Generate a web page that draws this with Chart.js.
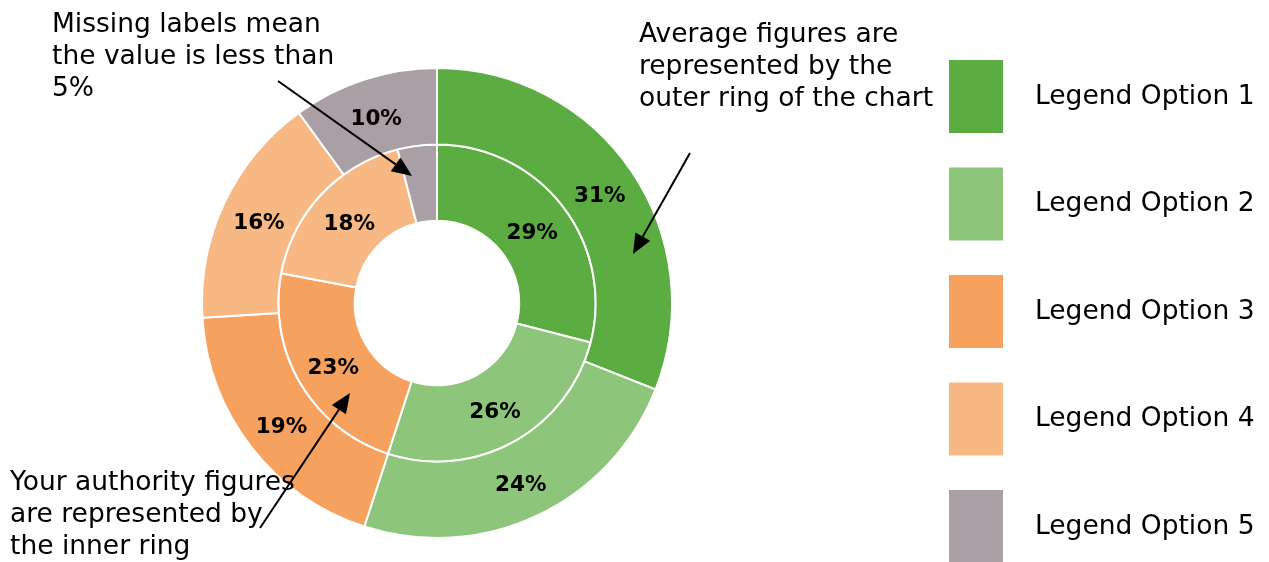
<!DOCTYPE html>
<html>
<head>
<meta charset="utf-8">
<script src="https://cdn.jsdelivr.net/npm/chart.js@4"></script>
<style>
  html, body { margin: 0; padding: 0; background: #fff; }
  #wrap { width: 1269px; height: 562px; }
</style>
</head>
<body>
<div id="wrap"><canvas id="chart" width="1269" height="562"></canvas></div>
<script>
// chart data
var categories = ["Legend Option 1", "Legend Option 2", "Legend Option 3", "Legend Option 4", "Legend Option 5"];
var averageValues = [31, 24, 19, 16, 10];   // outer ring
var authorityValues = [29, 26, 23, 18, 4];  // inner ring
var colours = ["#5bad42", "#8dc67b", "#f7a15f", "#f8b884", "#a99fa5"];

// callout notes
var notes = [
    { lines: ["Missing labels mean", "the value is less than", "5%"], x: 52, y: 32, from: [278, 81], to: [412, 176] },
    { lines: ["Average figures are", "represented by the", "outer ring of the chart"], x: 639, y: 42, from: [690, 153], to: [633, 254] },
    { lines: ["Your authority figures", "are represented by", "the inner ring"], x: 10, y: 490, from: [260, 528], to: [350, 393] }
];

var FONT = "'DejaVu Sans', Verdana, sans-serif";

var sliceLabels = {
    id: "sliceLabels",
    afterDatasetsDraw: function (chart) {
        var ctx = chart.ctx;
        ctx.save();
        ctx.font = "bold 21.5px " + FONT;
        ctx.fillStyle = "#000";
        ctx.textAlign = "center";
        ctx.textBaseline = "middle";
        chart.data.datasets.forEach(function (ds, di) {
            chart.getDatasetMeta(di).data.forEach(function (arc, i) {
                var v = ds.data[i];
                if (v < 5) return; // small values are not labelled
                var p = arc.tooltipPosition();
                ctx.fillText(v + "%", p.x, p.y + 4);
            });
        });
        ctx.restore();
    }
};

function arrow(ctx, a, b) {
    var ang = Math.atan2(b[1] - a[1], b[0] - a[0]);
    var len = 20, half = 8.5;
    var bx = b[0] - len * Math.cos(ang), by = b[1] - len * Math.sin(ang);
    ctx.beginPath();
    ctx.moveTo(a[0], a[1]);
    ctx.lineTo(bx, by);
    ctx.stroke();
    ctx.beginPath();
    ctx.moveTo(b[0], b[1]);
    ctx.lineTo(bx - half * Math.sin(ang), by + half * Math.cos(ang));
    ctx.lineTo(bx + half * Math.sin(ang), by - half * Math.cos(ang));
    ctx.closePath();
    ctx.fill();
}

var extras = {
    id: "extras",
    afterDraw: function (chart) {
        var ctx = chart.ctx;
        ctx.save();
        // legend
        ctx.font = "26.5px " + FONT;
        ctx.textBaseline = "middle";
        ctx.textAlign = "left";
        categories.forEach(function (c, i) {
            var top = 60 + i * 107.5;
            ctx.fillStyle = colours[i];
            ctx.fillRect(949, top, 54, 73);
            ctx.fillStyle = "#000";
            ctx.fillText(c, 1035, top + 37);
        });
        // notes
        ctx.textBaseline = "alphabetic";
        ctx.strokeStyle = "#000";
        ctx.fillStyle = "#000";
        ctx.lineWidth = 2;
        notes.forEach(function (n) {
            n.lines.forEach(function (t, k) {
                ctx.fillText(t, n.x, n.y + k * 32);
            });
            arrow(ctx, n.from, n.to);
        });
        ctx.restore();
    }
};

new Chart(document.getElementById("chart"), {
    type: "doughnut",
    data: {
        labels: categories,
        datasets: [
            { label: "Average", data: averageValues, backgroundColor: colours, borderColor: "#fff", borderWidth: 2 },
            { label: "Your authority", data: authorityValues, backgroundColor: colours, borderColor: "#fff", borderWidth: 2 }
        ]
    },
    options: {
        responsive: false,
        animation: false,
        cutout: "35%",
        layout: { padding: { top: 67, bottom: 23, left: 201, right: 596 } },
        plugins: {
            legend: { display: false },
            tooltip: { enabled: false }
        }
    },
    plugins: [sliceLabels, extras]
});
</script>
</body>
</html>
